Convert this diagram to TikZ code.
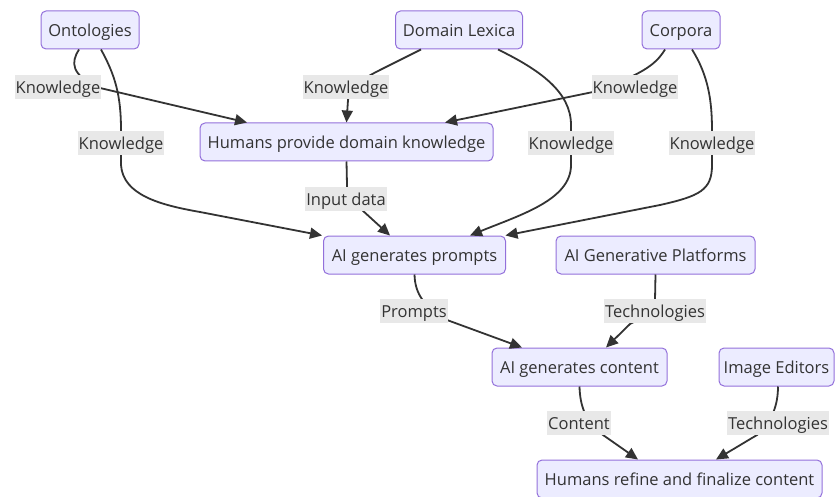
\documentclass[tikz,border=0pt]{standalone}
\usepackage{fontspec}
\setmainfont{Open Sans}
\usetikzlibrary{arrows.meta}
\definecolor{boxfill}{HTML}{ECECFF}
\definecolor{boxline}{HTML}{9370DB}
\definecolor{ink}{HTML}{333333}
\definecolor{tagfill}{HTML}{E8E8E8}
\begin{document}
\begin{tikzpicture}[x=1pt,y=-1pt,
  font=\fontsize{16.5pt}{20pt}\selectfont,
  box/.style={draw=boxline, fill=boxfill, line width=1pt, rounded corners=5pt,
    text=ink, minimum height=38pt, inner xsep=4pt, inner ysep=0pt,
    text height=14.5pt, text depth=2pt},
  tag/.style={fill=tagfill, text=ink, minimum height=24pt, inner xsep=1pt, inner ysep=0pt,
    text height=14.5pt, text depth=2pt},
  edge/.style={draw=ink, line width=1.8pt, -{Triangle[length=12pt,width=11pt]}}]
\useasboundingbox (0,0) rectangle (835,497);

% process boxes
\node[box, minimum width=98pt]  (ont)  at (90,30)    {Ontologies};
\node[box, minimum width=127pt] (dl)   at (459,30)   {Domain Lexica};
\node[box, minimum width=78pt]  (cor)  at (681,30)   {Corpora};
\node[box, minimum width=293pt] (hpd)  at (346.5,142) {Humans provide domain knowledge};
\node[box, minimum width=182pt] (aip)  at (414.5,255) {AI generates prompts};
\node[box, minimum width=199pt] (plat) at (655.5,255) {AI Generative Platforms};
\node[box, minimum width=175pt] (aic)  at (579.5,367) {AI generates content};
\node[box, minimum width=115pt] (img)  at (776.5,367) {Image Editors};
\node[box, minimum width=285pt] (hrf)  at (679.5,479) {Humans refine and finalize content};

% label positions
\coordinate (l1) at (58,87);
\coordinate (l2) at (121,143);
\coordinate (l3) at (346,87);
\coordinate (l4) at (571,143);
\coordinate (l5) at (635,87);
\coordinate (l6) at (712,143);
\coordinate (l7) at (346,199);
\coordinate (l8) at (414,311);
\coordinate (l9) at (655,311);
\coordinate (l10) at (579,423);
\coordinate (l11) at (778,423);

% connectors
\draw[edge] ([xshift=-11pt]ont.south) .. controls (71,62) and (70,75) .. (100,88)
  -- ([xshift=-99.5pt]hpd.north);
\draw[edge] ([xshift=11pt]ont.south) .. controls (115,75) and (121,95) .. (121,130)
  -- (121,165) .. controls (123,195) and (160,205) .. (200,212)
  -- ([xshift=-1pt]aip.north west);
\draw[edge] ([xshift=-38pt]dl.south) -- (380,70) .. controls (356,82) and (349,90) .. (348,100)
  -- (hpd.north);
\draw[edge] ([xshift=39pt]dl.south) .. controls (540,70) and (571,92) .. (571,125)
  -- (571,165) .. controls (571,200) and (520,215) .. ([xshift=55.5pt]aip.north);
\draw[edge] ([xshift=-16pt]cor.south) .. controls (655,66) and (640,75) .. (593,92)
  -- ([xshift=98.5pt]hpd.north);
\draw[edge] ([xshift=11pt]cor.south) .. controls (708,75) and (712,100) .. (712,130)
  -- (712,165) .. controls (712,190) and (700,196) .. (660,205)
  -- ([xshift=-0.5pt]aip.north east);
\draw[edge] (hpd.south) -- (347,185) .. controls (347,196) and (351,201) .. (362,210)
  -- ([xshift=-24.5pt]aip.north);
\draw[edge] (aip.south) .. controls (415,295) and (425,307) .. (447,320)
  -- ([xshift=-57.5pt]aic.north);
\draw[edge] (plat.south) -- (655,300) .. controls (655,312) and (645,316) .. (630,324)
  -- ([xshift=26.5pt]aic.north);
\draw[edge] (aic.south) .. controls (580,405) and (585,422) .. (603,435)
  -- ([xshift=-41.5pt]hrf.north);
\draw[edge] ([xshift=1.5pt]img.south) .. controls (778,405) and (772,422) .. (757,435)
  -- ([xshift=36.5pt]hrf.north);

% connector labels
\node[tag] at (l1) {Knowledge};
\node[tag] at (l2) {Knowledge};
\node[tag] at (l3) {Knowledge};
\node[tag] at (l4) {Knowledge};
\node[tag] at (l5) {Knowledge};
\node[tag] at (l6) {Knowledge};
\node[tag] at (l7) {Input data};
\node[tag] at (l8) {Prompts};
\node[tag] at (l9) {Technologies};
\node[tag] at (l10) {Content};
\node[tag] at (l11) {Technologies};
\end{tikzpicture}
\end{document}
